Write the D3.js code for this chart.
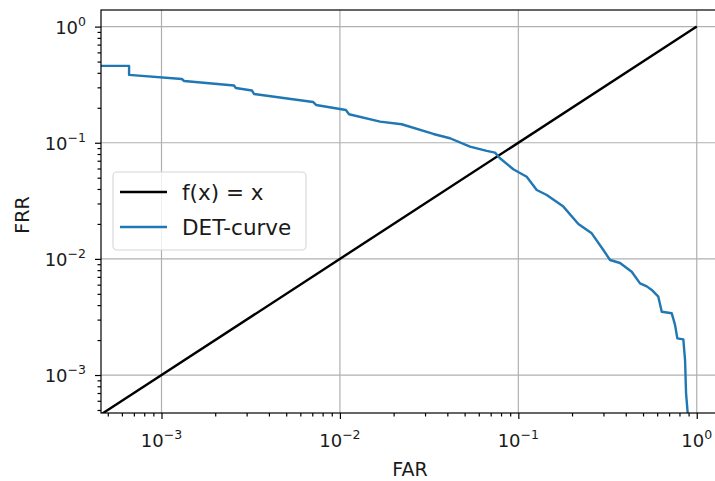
<!DOCTYPE html>
<html>
<head>
<meta charset="utf-8">
<script src="https://cdn.jsdelivr.net/npm/d3@7"></script>
<style>
  body { margin: 0; background: #fff; }
  svg { font-family: "DejaVu Sans", sans-serif; }
</style>
</head>
<body>
<svg id="chart" width="715" height="481"></svg>
<script>
// DET curve points: false accept rate / false reject rate
const farValues = [4.0e-4, 6.58e-4, 6.58e-4, 1.30e-3, 1.34e-3, 2.55e-3, 2.61e-3, 3.21e-3, 3.30e-3,
  7.07e-3, 7.35e-3, 1.08e-2, 1.125e-2, 1.68e-2, 2.22e-2, 3.34e-2, 4.14e-2, 5.36e-2, 6.65e-2,
  7.40e-2, 7.89e-2, 9.37e-2, 0.1114, 0.1268, 0.1443, 0.1788, 0.217, 0.2578, 0.2996, 0.3266,
  0.3716, 0.432, 0.481, 0.5245, 0.5595, 0.609, 0.6365, 0.7243, 0.7558, 0.7785, 0.841, 0.860,
  0.871, 0.890, 0.890];
const frrValues = [0.459, 0.459, 0.384, 0.354, 0.340, 0.311, 0.296, 0.282, 0.263,
  0.2246, 0.2116, 0.1916, 0.176, 0.152, 0.1443, 0.119, 0.1093, 0.0926, 0.085,
  0.0822, 0.0735, 0.0591, 0.0510, 0.0392, 0.0355, 0.0282, 0.0200, 0.0166, 0.01193, 0.00978,
  0.00922, 0.00776, 0.00616, 0.0058, 0.0054, 0.00473, 0.00351, 0.0034, 0.0027, 0.00207, 0.00203, 0.001346,
  0.0007, 0.000468, 0.0003];

// identity reference line f(x) = x
const identityX = [1e-4, 1];

const xLim = [4.58e-4, 1.35];
const yLim = [4.71e-4, 1.39];
const xMajor = [1e-3, 1e-2, 1e-1, 1];
const yMajor = [1e-3, 1e-2, 1e-1, 1];
const majorExp = ["\u22123", "\u22122", "\u22121", "0"];
const legendLabels = ["f(x) = x", "DET-curve"];

const margin = {top: 10, left: 101, bottom: 413, right: 720};

const svg = d3.select("#chart");

const x = d3.scaleLog().domain(xLim).range([margin.left, margin.right]);
const y = d3.scaleLog().domain(yLim).range([margin.bottom, margin.top]);

const xMinor = x.ticks().filter(v => !xMajor.some(m => Math.abs(v / m - 1) < 1e-6));
const yMinor = y.ticks().filter(v => !yMajor.some(m => Math.abs(v / m - 1) < 1e-6));

// grid
const grid = svg.append("g").attr("stroke", "#b0b0b0").attr("stroke-width", 1.2);
grid.selectAll(".gx").data(xMajor).join("line")
    .attr("x1", d => x(d)).attr("x2", d => x(d))
    .attr("y1", margin.top).attr("y2", margin.bottom);
grid.selectAll(".gy").data(yMajor).join("line")
    .attr("y1", d => y(d)).attr("y2", d => y(d))
    .attr("x1", margin.left).attr("x2", margin.right);

// lines
svg.append("clipPath").attr("id", "clip")
  .append("rect")
    .attr("x", margin.left).attr("y", margin.top)
    .attr("width", margin.right - margin.left)
    .attr("height", margin.bottom - margin.top);

const plot = svg.append("g").attr("clip-path", "url(#clip)");

const line = d3.line().x(d => x(d[0])).y(d => y(d[1]));

plot.append("path")
    .datum(identityX.map(v => [v, v]))
    .attr("d", line)
    .attr("fill", "none")
    .attr("stroke", "#000")
    .attr("stroke-width", 2.4);

plot.append("path")
    .datum(farValues.map((v, i) => [v, frrValues[i]]))
    .attr("d", line)
    .attr("fill", "none")
    .attr("stroke", "#1f77b4")
    .attr("stroke-width", 2.4)
    .attr("stroke-linejoin", "round");

// axes (ticks only, labels drawn below)
const xAxisMajor = d3.axisBottom(x).tickValues(xMajor).tickSize(6).tickFormat("");
const xAxisMinor = d3.axisBottom(x).tickValues(xMinor).tickSize(3.5).tickFormat("");
const yAxisMajor = d3.axisLeft(y).tickValues(yMajor).tickSize(6).tickFormat("");
const yAxisMinor = d3.axisLeft(y).tickValues(yMinor).tickSize(3.5).tickFormat("");

function styleAxis(g) {
  g.select(".domain").remove();
  g.selectAll(".tick line").attr("stroke", "#000").attr("stroke-width", 1.2);
}

svg.append("g").attr("transform", `translate(0,${margin.bottom})`).call(xAxisMajor).call(styleAxis);
svg.append("g").attr("transform", `translate(0,${margin.bottom})`).call(xAxisMinor).call(styleAxis);
svg.append("g").attr("transform", `translate(${margin.left},0)`).call(yAxisMajor).call(styleAxis);
svg.append("g").attr("transform", `translate(${margin.left},0)`).call(yAxisMinor).call(styleAxis);

// spines
svg.append("rect")
    .attr("x", margin.left).attr("y", margin.top)
    .attr("width", margin.right - margin.left)
    .attr("height", margin.bottom - margin.top)
    .attr("fill", "none")
    .attr("stroke", "#000")
    .attr("stroke-width", 1.2);

// tick labels 10^n
function powLabel(sel, i) {
  sel.append("tspan").text("10");
  sel.append("tspan").text(majorExp[i])
      .attr("font-size", 12.5)
      .attr("dy", -8);
}

xMajor.forEach((v, i) => {
  svg.append("text")
      .attr("x", x(v))
      .attr("y", 447)
      .attr("text-anchor", "middle")
      .attr("font-size", 18)
      .attr("fill", "#1a1a1a")
      .call(powLabel, i);
});

yMajor.forEach((v, i) => {
  svg.append("text")
      .attr("x", 86)
      .attr("y", y(v) + 7)
      .attr("text-anchor", "end")
      .attr("font-size", 18)
      .attr("fill", "#1a1a1a")
      .call(powLabel, i);
});

// axis labels
svg.append("text")
    .attr("x", 410).attr("y", 476)
    .attr("text-anchor", "middle")
    .attr("font-size", 19)
    .attr("fill", "#1a1a1a")
    .text("FAR");

svg.append("text")
    .attr("transform", "translate(29,215) rotate(-90)")
    .attr("text-anchor", "middle")
    .attr("font-size", 19)
    .attr("fill", "#1a1a1a")
    .text("FRR");

// legend
const legend = svg.append("g");
legend.append("rect")
    .attr("x", 113).attr("y", 172)
    .attr("width", 193).attr("height", 78)
    .attr("rx", 4)
    .attr("fill", "#fff").attr("fill-opacity", 0.8)
    .attr("stroke", "#d6d6d6").attr("stroke-width", 1.1);

const legendColors = ["#000", "#1f77b4"];
legendLabels.forEach((lab, i) => {
  const ly = 192 + i * 35;
  legend.append("line")
      .attr("x1", 120).attr("x2", 167)
      .attr("y1", ly).attr("y2", ly)
      .attr("stroke", legendColors[i])
      .attr("stroke-width", 2.4);
  legend.append("text")
      .attr("x", 182).attr("y", ly + 7.5)
      .attr("font-size", 21.5)
      .attr("fill", "#1a1a1a")
      .text(lab);
});
</script>
</body>
</html>
